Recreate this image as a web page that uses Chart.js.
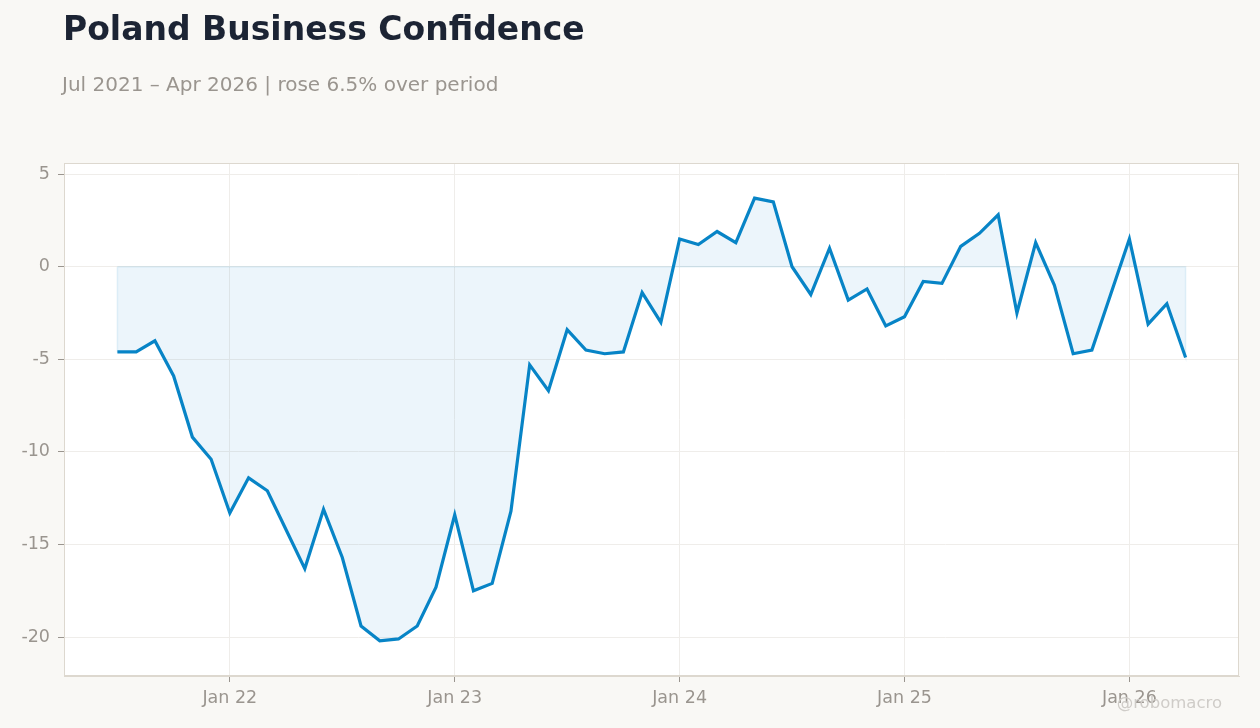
<!DOCTYPE html>
<html>
<head>
<meta charset="utf-8">
<script src="https://cdn.jsdelivr.net/npm/chart.js@4/dist/chart.umd.min.js"></script>
<style>
  html, body { margin: 0; padding: 0; background: #f9f8f5; }
  body { width: 1260px; height: 728px; position: relative; overflow: hidden; font-family: "DejaVu Sans", sans-serif; }
  #title { position: absolute; left: 63px; top: 9px; font-size: 33px; font-weight: bold; color: #1c2434; white-space: nowrap; }
  #subtitle { position: absolute; left: 62px; top: 72px; font-size: 20px; color: #9a958f; white-space: nowrap; }
  #credit { position: absolute; right: 38px; top: 693px; font-size: 16.5px; color: #cfccc8; white-space: nowrap; }
  #wrap { position: absolute; left: 0; top: 0; width: 1260px; height: 728px; }
</style>
</head>
<body>
<div id="wrap"><canvas id="chart"></canvas></div>
<div id="title">Poland Business Confidence</div>
<div id="subtitle">Jul 2021 – Apr 2026 | rose 6.5% over period</div>
<div id="credit">@robomacro</div>
<script>
// monthly readings, Jul 2021 .. Apr 2026
const months = [
  'Jul 21', 'Aug 21', 'Sep 21', 'Oct 21', 'Nov 21', 'Dec 21',
  'Jan 22', 'Feb 22', 'Mar 22', 'Apr 22', 'May 22', 'Jun 22', 'Jul 22', 'Aug 22', 'Sep 22', 'Oct 22', 'Nov 22', 'Dec 22',
  'Jan 23', 'Feb 23', 'Mar 23', 'Apr 23', 'May 23', 'Jun 23', 'Jul 23', 'Aug 23', 'Sep 23', 'Oct 23', 'Nov 23', 'Dec 23',
  'Jan 24', 'Feb 24', 'Mar 24', 'Apr 24', 'May 24', 'Jun 24', 'Jul 24', 'Aug 24', 'Sep 24', 'Oct 24', 'Nov 24', 'Dec 24',
  'Jan 25', 'Feb 25', 'Mar 25', 'Apr 25', 'May 25', 'Jun 25', 'Jul 25', 'Aug 25', 'Sep 25', 'Oct 25', 'Nov 25', 'Dec 25',
  'Jan 26', 'Feb 26', 'Mar 26', 'Apr 26'
];

const confidence = [
  -4.6, -4.6, -4.0, -5.9, -9.2, -10.4,
  -13.3, -11.4, -12.1, -14.2, -16.3, -13.1, -15.7, -19.4, -20.2, -20.1, -19.4, -17.3,
  -13.4, -17.5, -17.1, -13.2, -5.3, -6.7, -3.4, -4.5, -4.7, -4.6, -1.4, -3.0,
  1.5, 1.2, 1.9, 1.3, 3.7, 3.5, 0.0, -1.5, 1.0, -1.8, -1.2, -3.2,
  -2.7, -0.8, -0.9, 1.1, 1.8, 2.8, -2.5, 1.3, -1.0, -4.7, -4.5, -1.5,
  1.5, -3.1, -2.0, -4.9
];

const xTickLabels = ['Jan 22', 'Jan 23', 'Jan 24', 'Jan 25', 'Jan 26'];
const yTicks = [-20, -15, -10, -5, 0, 5];

const LINE = '#0885c7';
const TICK_TEXT = '#9a958f';
const GRID = '#efedea';
const FRAME = '#ddd8cf';

const points = confidence.map((v, i) => ({ x: i, y: v }));
const xTickValues = xTickLabels.map(l => months.indexOf(l));

// closed outline of the area between the line and zero
const last = points.length - 1;
const areaShape = [{ x: 0, y: 0 }].concat(points, [{ x: last, y: 0 }, { x: 0, y: 0 }]);

const pad = last * 0.05;

const plotFrame = {
  id: 'plotFrame',
  beforeDraw(chart) {
    const { ctx, chartArea: a } = chart;
    ctx.save();
    ctx.fillStyle = '#ffffff';
    ctx.fillRect(a.left, a.top, a.right - a.left, a.bottom - a.top);
    ctx.restore();
  },
  afterDraw(chart) {
    const { ctx, chartArea: a } = chart;
    ctx.save();
    ctx.strokeStyle = FRAME;
    ctx.lineWidth = 1;
    ctx.strokeRect(a.left + 0.5, a.top + 0.5, a.right - a.left - 1, a.bottom - a.top - 1);
    ctx.restore();
  }
};

new Chart(document.getElementById('chart'), {
  type: 'line',
  data: {
    datasets: [{
      data: areaShape,
      borderColor: 'rgba(8, 133, 199, 0.10)',
      backgroundColor: 'rgba(8, 133, 199, 0.08)',
      borderWidth: 1.5,
      fill: 'shape',
      pointRadius: 0,
      tension: 0
    }, {
      data: points,
      borderColor: LINE,
      borderWidth: 3.2,
      fill: false,
      pointRadius: 0,
      tension: 0
    }]
  },
  options: {
    responsive: true,
    maintainAspectRatio: false,
    animation: false,
    layout: { padding: { left: 0, top: 163, right: 21, bottom: 0 } },
    plugins: {
      legend: { display: false },
      tooltip: { enabled: false }
    },
    scales: {
      x: {
        type: 'linear',
        min: -pad,
        max: last + pad,
        afterBuildTicks: scale => { scale.ticks = xTickValues.map(v => ({ value: v })); },
        afterFit: scale => { scale.height = 52; },
        ticks: {
          color: TICK_TEXT,
          font: { family: 'DejaVu Sans', size: 17.5 },
          padding: 6,
          maxRotation: 0,
          callback: v => xTickLabels[xTickValues.indexOf(v)]
        },
        grid: { color: GRID, tickColor: TICK_TEXT, tickLength: 6 },
        border: { color: FRAME }
      },
      y: {
        min: -22.1,
        max: 5.6,
        afterBuildTicks: scale => { scale.ticks = yTicks.map(v => ({ value: v })); },
        afterFit: scale => { scale.width = 64; },
        ticks: {
          color: TICK_TEXT,
          font: { family: 'DejaVu Sans', size: 17.5 },
          padding: 8
        },
        grid: { color: GRID, tickColor: TICK_TEXT, tickLength: 6 },
        border: { color: FRAME }
      }
    }
  },
  plugins: [plotFrame]
});
</script>
</body>
</html>
